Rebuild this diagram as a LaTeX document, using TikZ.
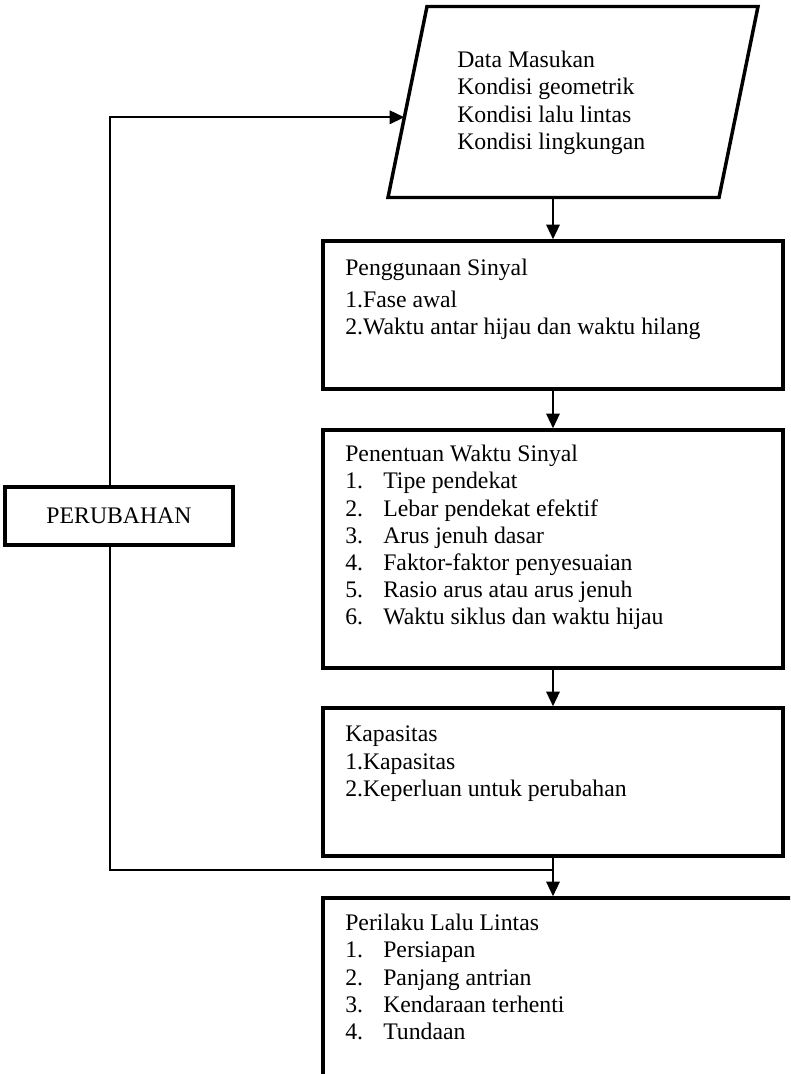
\documentclass[tikz,border=0pt]{standalone}
\usepackage{fontspec}
\setmainfont{Liberation Serif}
\usetikzlibrary{arrows.meta,positioning,calc}

\newcommand{\nomor}[1]{\makebox[28.5pt][l]{#1}}

\begin{document}
\begin{tikzpicture}[x=0.75pt, y=-0.75pt,
    box/.style={rectangle, draw, line width=2.6pt, minimum width=345pt},
    border/.style={line width=2.6pt, line join=miter},
    txt/.style={anchor=north west, inner sep=0pt, align=left,
        font=\fontsize{17.8pt}{20.4pt}\selectfont},
    link/.style={line width=1.6pt},
    arrow/.style={link, -{Triangle[length=11pt, width=10pt]}}]

    \path[use as bounding box, clip] (0,0) rectangle (790,1074);

    % alur utama
    \node[minimum width=277.5pt, minimum height=143.25pt, outer sep=0pt] (data) at (573,102) {};
    \coordinate (dbl) at (data.south west);
    \coordinate (dtl) at ($(data.north west)+(39,0)$);
    \coordinate (dbr) at ($(data.south east)-(39,0)$);
    \draw[border] (dbl) -- (dtl) -- (data.north east) -- (dbr) -- cycle;
    \node[txt] (datatext) at (457,51) {Data Masukan\\Kondisi geometrik\\Kondisi lalu lintas\\Kondisi lingkungan};

    \node[box, minimum height=111pt] (guna) at (553,315) {};
    \node[txt] (gunatext) at (345,259) {Penggunaan Sinyal\\[3.5pt]1.Fase awal\\2.Waktu antar hijau dan waktu hilang};

    \node[box, minimum height=178.5pt] (tentu) at (553,549) {};
    \node[txt] (tentutext) at (345,445) {Penentuan Waktu Sinyal\\
        \nomor{1.}Tipe pendekat\\
        \nomor{2.}Lebar pendekat efektif\\
        \nomor{3.}Arus jenuh dasar\\
        \nomor{4.}Faktor-faktor penyesuaian\\
        \nomor{5.}Rasio arus atau arus jenuh\\
        \nomor{6.}Waktu siklus dan waktu hijau};

    \node[box, minimum height=111pt] (kap) at (553,782) {};
    \node[txt] (kaptext) at (345,726) {Kapasitas\\1.Kapasitas\\2.Keperluan untuk perubahan};

    \node[box, minimum width=360pt, minimum height=150pt] (perilaku) at (563,998) {};
    \node[txt] (perilakutext) at (345,914) {Perilaku Lalu Lintas\\
        \nomor{1.}Persiapan\\
        \nomor{2.}Panjang antrian\\
        \nomor{3.}Kendaraan terhenti\\
        \nomor{4.}Tundaan};

    % umpan balik
    \node[rectangle, draw, line width=2.6pt, minimum width=171pt, minimum height=43.5pt,
        font=\fontsize{17.8pt}{20.4pt}\selectfont] (ubah) at (119,516) {PERUBAHAN};

    \coordinate (junc) at (553,870);
    \coordinate (loop) at (110,870);
    \coordinate (datain) at ($(dbl)!0.42!(dtl)$);

    \draw[arrow] (data.south -| guna.north) -- (guna.north);
    \draw[arrow] (guna) -- (tentu);
    \draw[arrow] (tentu) -- (kap);
    \draw[link] (kap.south) -- (junc) -- (loop) -- (loop |- ubah.south);
    \draw[arrow] (junc) -- (junc |- perilaku.north);
    \draw[arrow] (loop |- ubah.north) |- (datain);
\end{tikzpicture}
\end{document}
